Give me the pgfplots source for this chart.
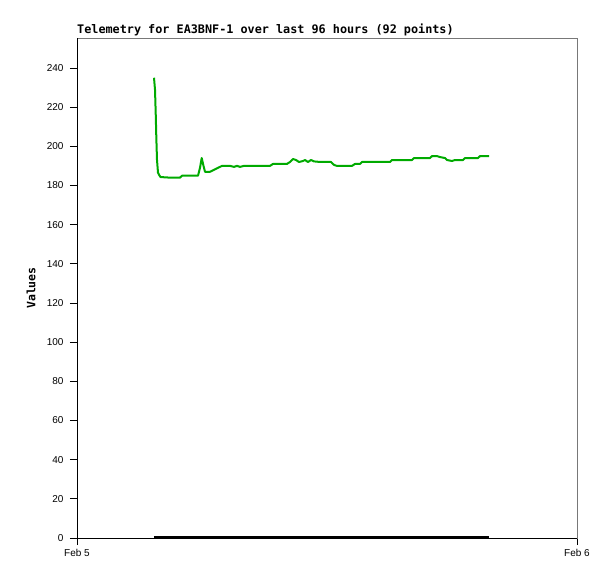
\documentclass[border=0pt]{standalone}
\usepackage{fontspec}
\setmainfont{Liberation Sans}
\setmonofont{DejaVu Sans Mono}
\usepackage{pgfplots}
\pgfplotsset{compat=1.18}
\definecolor{tgreen}{RGB}{0,170,0}
\definecolor{frame}{RGB}{120,120,120}
\begin{document}
\begin{tikzpicture}[x=1pt,y=1pt]
\path[use as bounding box] (0,0) rectangle (615,579);
\begin{axis}[
  at={(77pt,41pt)}, anchor=south west,
  scale only axis, width=500pt, height=500pt,
  xmin=0, xmax=24, ymin=0, ymax=255.3,
  xtick={0,24}, xticklabels={Feb 5, Feb 6},
  ytick={0,20,...,240},
  tick align=outside, xtick pos=bottom, ytick pos=left,
  major tick length=7pt,
  tick style={black, line width=0.8pt},
  axis line style={frame, line width=0.8pt},
  /pgf/number format/assume math mode=true,
  ticklabel style={font=\fontsize{10}{12}\selectfont, black},
  xticklabel style={yshift=-1pt},
  yticklabel style={xshift=-3pt},
  title={Telemetry for EA3BNF-1 over last 96 hours (92 points)},
  every axis title/.style={at={(rel axis cs:0,1)}, anchor=base west, yshift=4pt, inner sep=0pt, font=\ttfamily\bfseries\fontsize{11.8}{13}\selectfont},
  ylabel={Values},
  every axis y label/.style={at={(rel axis cs:0,0.5)}, xshift=-46pt, rotate=90, anchor=center, font=\ttfamily\bfseries\fontsize{11.5}{13}\selectfont},
  clip=false,
]
\draw[black, line width=0.8pt] (rel axis cs:0,0) -- (rel axis cs:0,1);
\draw[black, line width=0.8pt] (rel axis cs:0,0) -- (rel axis cs:1,0);
\addplot[black, line width=2pt] coordinates {(3.696,0.4) (19.776,0.4)};
\addplot[tgreen, line width=2pt, line join=round] coordinates {
(3.696,235) (3.744,229) (3.778,217) (3.806,205) (3.84,193) (3.888,186.5)
(3.936,185.5) (4.008,184.3) (4.464,184) (4.944,184) (5.04,185) (5.424,185)
(5.808,185) (5.904,189) (5.986,194) (6.072,190) (6.144,187) (6.384,187)
(6.576,188) (6.768,189) (6.96,190) (7.344,190) (7.536,189.5) (7.68,190)
(7.824,189.5) (8.016,190) (8.544,190) (9.264,190) (9.408,191) (10.08,191)
(10.224,192) (10.368,193.5) (10.512,193) (10.656,192) (10.848,192.5) (10.944,193)
(11.088,192) (11.232,193) (11.376,192.3) (11.664,192) (12.192,192) (12.336,190.5)
(12.48,190) (13.2,190) (13.344,191) (13.584,191) (13.68,192) (14.304,192)
(15.024,192) (15.12,193) (16.08,193) (16.176,194) (16.944,194) (17.04,195)
(17.28,195) (17.424,194.5) (17.664,194) (17.76,193) (18.0,192.5) (18.144,193)
(18.528,193) (18.624,194) (19.248,194) (19.344,195) (19.776,195)
};
\end{axis}
\end{tikzpicture}
\end{document}
